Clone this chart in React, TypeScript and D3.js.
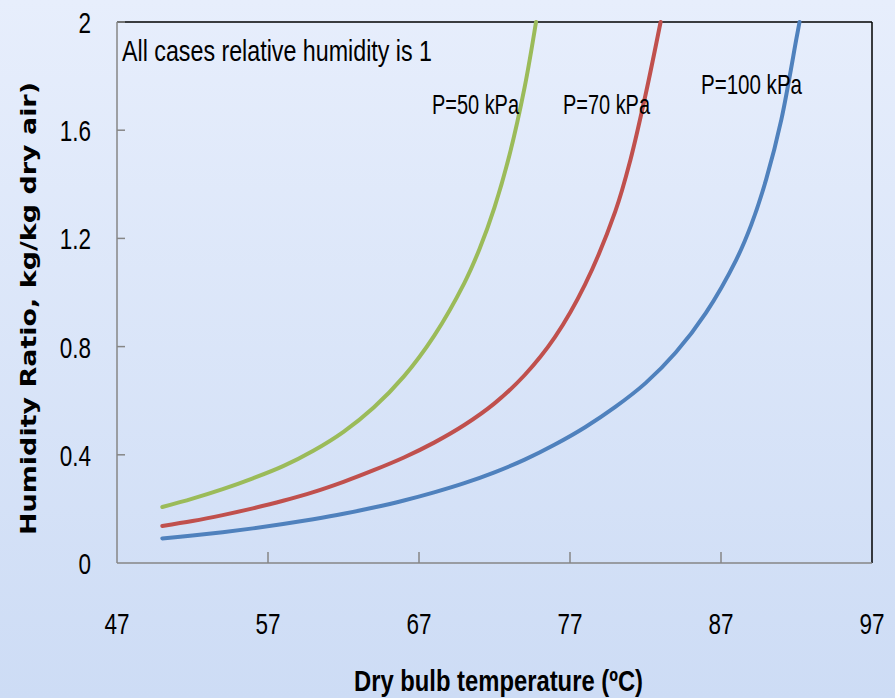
import * as d3 from "d3";

const WIDTH = 895;
const HEIGHT = 698;

// dry bulb temperature (°C) and humidity ratio (kg/kg dry air)
const tempP50 = [50, 52, 54, 56, 58, 60, 62, 64, 66, 68, 70, 71, 72, 73, 74, 74.75];
const ratioP50 = [0.207, 0.238, 0.273, 0.313, 0.358, 0.415, 0.485, 0.575, 0.69, 0.84, 1.035, 1.16, 1.315, 1.51, 1.76, 2.0];

const tempP70 = [50, 52, 54, 56, 58, 60, 62, 64, 66, 68, 70, 72, 74, 76, 78, 80, 81, 82, 83];
const ratioP70 = [0.137, 0.155, 0.177, 0.202, 0.23, 0.262, 0.3, 0.343, 0.39, 0.445, 0.51, 0.59, 0.695, 0.835, 1.03, 1.3, 1.49, 1.73, 2.0];

const tempP100 = [50, 52, 54, 56, 58, 60, 62, 64, 66, 68, 70, 72, 74, 76, 78, 80, 82, 84, 86, 88, 89, 90, 91, 92, 92.2];
const ratioP100 = [0.091, 0.102, 0.114, 0.128, 0.144, 0.162, 0.182, 0.205, 0.231, 0.261, 0.295, 0.335, 0.382, 0.438, 0.502, 0.577, 0.665, 0.778, 0.925, 1.12, 1.25, 1.42, 1.64, 1.94, 2.0];

const xTicks = [47, 57, 67, 77, 87, 97];
const yTicks = [0, 0.4, 0.8, 1.2, 1.6, 2];

const seriesLabels = ["P=50 kPa", "P=70 kPa", "P=100 kPa"];
const seriesColors = ["#9bbb59", "#c0504d", "#4f81bd"];

const SANS = "'Liberation Sans', Arial, sans-serif";

type Pt = { t: number; w: number };

export default function App() {
    const left = 117;
    const right = 872;
    const top = 22;
    const bottom = 563;

    const x = d3.scaleLinear().domain([47, 97]).range([left, right]);
    const y = d3.scaleLinear().domain([0, 2]).range([bottom, top]);

    const series: Pt[][] = [
        tempP50.map((t, i) => ({ t, w: ratioP50[i] })),
        tempP70.map((t, i) => ({ t, w: ratioP70[i] })),
        tempP100.map((t, i) => ({ t, w: ratioP100[i] })),
    ];

    const line = d3
        .line<Pt>()
        .x((d) => x(d.t))
        .y((d) => y(d.w))
        .curve(d3.curveCatmullRom.alpha(0.5));

    // label anchors: left x, baseline y, forced width
    const labelPos = [
        { x: 432, y: 114, len: 87 },
        { x: 563, y: 114, len: 87 },
        { x: 701, y: 94, len: 101 },
    ];

    return (
        <svg
            width={WIDTH}
            height={HEIGHT}
            style={{ position: "fixed", left: 0, top: 0, display: "block" }}
        >
            <defs>
                <linearGradient id="bg" x1="0" y1="0" x2="0" y2="1">
                    <stop offset="0" stopColor="#e7eefc" />
                    <stop offset="1" stopColor="#cddcf5" />
                </linearGradient>
            </defs>
            <rect width={WIDTH} height={HEIGHT} fill="url(#bg)" />

            {/* frame */}
            <line x1={left} x2={right} y1={top} y2={top} stroke="#000" strokeWidth={1.5} />
            <line x1={right} x2={right} y1={top} y2={bottom} stroke="#000" strokeWidth={1.5} />

            {/* y axis */}
            <line x1={left} x2={left} y1={top} y2={bottom} stroke="#868686" strokeWidth={1.5} />
            {yTicks.map((v) => (
                <g key={v}>
                    {v > 0 && (
                        <line x1={left} x2={left + 8} y1={y(v)} y2={y(v)} stroke="#868686" strokeWidth={1.5} />
                    )}
                    <text
                        transform={`translate(91,${y(v) + 11}) scale(0.75,1)`}
                        textAnchor="end"
                        fontFamily={SANS}
                        fontSize={30}
                        fill="#000"
                    >
                        {v}
                    </text>
                </g>
            ))}

            {/* x axis */}
            <line x1={left} x2={right} y1={bottom} y2={bottom} stroke="#868686" strokeWidth={1.5} />
            {xTicks.map((v) => (
                <g key={v}>
                    {v > 47 && v < 97 && (
                        <line x1={x(v)} x2={x(v)} y1={bottom} y2={bottom - 11} stroke="#868686" strokeWidth={1.5} />
                    )}
                    <text
                        transform={`translate(${x(v)},634) scale(0.75,1)`}
                        textAnchor="middle"
                        fontFamily={SANS}
                        fontSize={30}
                        fill="#000"
                    >
                        {v}
                    </text>
                </g>
            ))}

            {/* curves */}
            {series.map((s, i) => (
                <path
                    key={seriesLabels[i]}
                    d={line(s) ?? ""}
                    fill="none"
                    stroke={seriesColors[i]}
                    strokeWidth={4}
                    strokeLinecap="round"
                />
            ))}

            {/* annotations */}
            <text x={122} y={61} fontFamily={SANS} fontSize={29} textLength={310} lengthAdjust="spacingAndGlyphs">
                All cases relative humidity is 1
            </text>
            {seriesLabels.map((label, i) => (
                <text
                    key={label}
                    x={labelPos[i].x}
                    y={labelPos[i].y}
                    fontFamily={SANS}
                    fontSize={28}
                    textLength={labelPos[i].len}
                    lengthAdjust="spacingAndGlyphs"
                >
                    {label}
                </text>
            ))}

            {/* axis titles */}
            <text
                x={354}
                y={691}
                fontFamily={SANS}
                fontWeight="bold"
                fontSize={29}
                textLength={289}
                lengthAdjust="spacingAndGlyphs"
            >
                Dry bulb temperature (ºC)
            </text>
            <text
                transform="translate(36,535) rotate(-90)"
                fontFamily="'DejaVu Sans', Verdana, sans-serif"
                fontWeight="bold"
                fontSize={22}
                textLength={453}
                lengthAdjust="spacingAndGlyphs"
            >
                Humidity  Ratio,  kg/kg dry air)
            </text>
        </svg>
    );
}
